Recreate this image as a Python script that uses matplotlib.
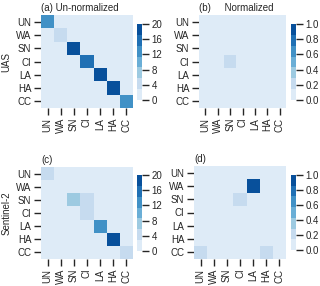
import numpy as np
import matplotlib
matplotlib.use("Agg")
import matplotlib.pyplot as plt
import seaborn as sns
from matplotlib.colors import ListedColormap

sns.set_style("ticks")
plt.rcParams['font.family'] = ['Liberation Sans', 'DejaVu Sans']
plt.rcParams['font.size'] = 7

classes = ["UN", "WA", "SN", "CI", "LA", "HA", "CC"]

# (a) UAS un-normalized (rows: true, cols: predicted)
uas_counts = np.array([
    [13, 0, 0, 0, 0, 0, 0],
    [0, 4, 0, 0, 0, 0, 0],
    [0, 0, 20, 0, 0, 0, 0],
    [0, 0, 0, 16, 0, 0, 0],
    [0, 0, 0, 0, 20, 0, 0],
    [0, 0, 0, 0, 0, 20, 0],
    [0, 0, 0, 0, 0, 0, 12],
])
# (b) UAS normalized
uas_norm = np.array([
    [0, 0, 0, 0, 0, 0, 0],
    [0, 0, 0, 0, 0, 0, 0],
    [0, 0, 0, 0, 0, 0, 0],
    [0, 0, 0.2, 0, 0, 0, 0],
    [0, 0, 0, 0, 0, 0, 0],
    [0, 0, 0, 0, 0, 0, 0],
    [0, 0, 0, 0, 0, 0, 0],
])
# (c) Sentinel-2 un-normalized
s2_counts = np.array([
    [4, 0, 0, 0, 0, 0, 0],
    [0, 0, 0, 0, 0, 0, 0],
    [0, 0, 7, 4, 0, 0, 0],
    [0, 0, 0, 4, 0, 0, 0],
    [0, 0, 0, 0, 12, 0, 0],
    [0, 0, 0, 0, 0, 20, 0],
    [0, 0, 0, 0, 0, 0, 4],
])
# (d) Sentinel-2 normalized
s2_norm = np.array([
    [0, 0, 0, 0, 0, 0, 0],
    [0, 0, 0, 0, 1.0, 0, 0],
    [0, 0, 0, 0.2, 0, 0, 0],
    [0, 0, 0, 0, 0, 0, 0],
    [0, 0, 0, 0, 0, 0, 0],
    [0, 0, 0, 0, 0, 0, 0],
    [0.2, 0, 0, 0, 0, 0.2, 0],
])

titles = ["(a) Un-normalized", "(b)     Normalized", "(c)", "(d)"]
ylabels = ["UAS", "", "Sentinel-2", ""]
data = [uas_counts, uas_norm, s2_counts, s2_norm]
vmaxs = [20, 1.0, 20, 1.0]
cticks = [[0, 4, 8, 12, 16, 20], [0.0, 0.2, 0.4, 0.6, 0.8, 1.0]]

cmap = ListedColormap(sns.color_palette("Blues", 7))

W, H = 320, 286
fig = plt.figure(figsize=(W / 100, H / 100), dpi=100)

def frac(l, t, r, b):
    return [l / W, 1 - b / H, (r - l) / W, (b - t) / H]

hm_boxes = [(41, 15, 133, 108), (199, 15, 286, 108), (41, 167, 133, 259), (194, 166, 286, 259)]
cb_boxes = [(137, 24, 142, 100), (291, 24, 296, 100), (137, 175, 142, 251), (291, 175, 296, 250)]

n = len(classes)
pos = np.arange(n) + 0.5
for i in range(4):
    ax = fig.add_axes(frac(*hm_boxes[i]))
    cax = fig.add_axes(frac(*cb_boxes[i]))
    mesh = ax.pcolormesh(np.arange(n + 1), np.arange(n + 1), data[i],
                         cmap=cmap, vmin=0, vmax=vmaxs[i])
    ax.set_xlim(0, n)
    ax.set_ylim(n, 0)
    for s in ax.spines.values():
        s.set_visible(False)
    ax.set_xticks(pos)
    ax.set_xticklabels(classes, rotation=90)
    ax.set_yticks(pos)
    ax.set_yticklabels(classes, rotation=0)
    ax.tick_params(length=5, width=1.0, color='0.15', pad=2, labelsize=7)
    ax.set_title(titles[i], loc='left', fontsize=7, pad=3)
    if ylabels[i]:
        ax.set_ylabel(ylabels[i], fontsize=7, labelpad=3)
    cb = fig.colorbar(mesh, cax=cax)
    cb.set_ticks(cticks[i % 2])
    if i % 2 == 1:
        cb.set_ticklabels([f"{v:.1f}" for v in cticks[1]])
    cb.outline.set_visible(False)
    cax.tick_params(length=5, width=1.0, color='0.15', pad=2, labelsize=7)

fig.savefig("out.png", dpi=100)
